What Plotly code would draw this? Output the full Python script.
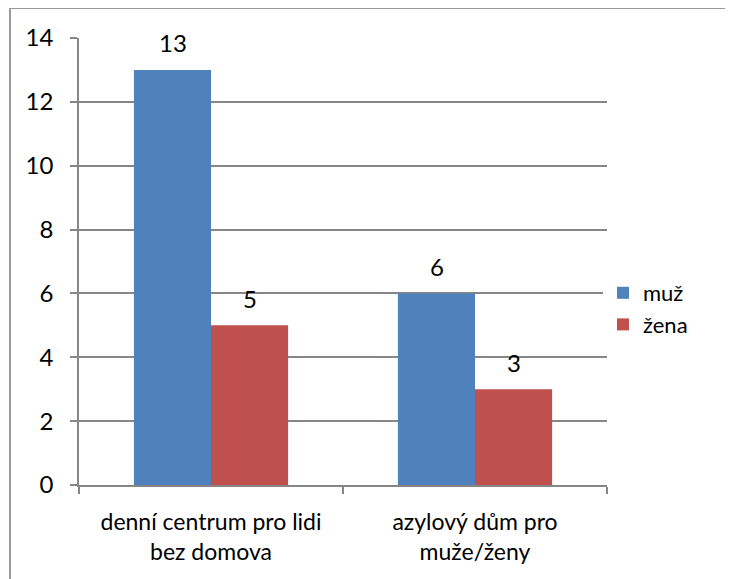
import plotly.graph_objects as go

categories = ["denní centrum pro lidi<br>bez domova", "azylový dům pro<br>muže/ženy"]
muz = [13, 6]
zena = [5, 3]
series_names = ["muž", "žena"]
y_ticks = [0, 2, 4, 6, 8, 10, 12, 14]

FONT = "Lato"
FS = 24
fig = go.Figure()
fig.add_trace(go.Bar(x=categories, y=muz, name=series_names[0], marker_color="#4F81BD", marker_line_width=0))
fig.add_trace(go.Bar(x=categories, y=zena, name=series_names[1], marker_color="#C0504D", marker_line_width=0))

for vals, shift in ((muz, -38.5), (zena, 38.5)):
    for c, v in zip(categories, vals):
        fig.add_annotation(x=c, y=v, text=str(v), showarrow=False, xshift=shift, yshift=27,
                           font=dict(family=FONT, size=FS, color="#000"))

# page offset of 8px (body margin) removed
OFF = 8
L, R, T, B = 79 - OFF, 607 - OFF, 38 - OFF, 485 - OFF
W, H = 733 - OFF, 579 - OFF
pw, ph = R - L, B - T
def px(x): return (x - OFF - L) / pw
def py(y): return (B - (y - OFF)) / ph

fig.add_shape(type="line", xref="paper", yref="paper", x0=px(10), x1=px(733), y0=py(8), y1=py(8),
              line=dict(color="#9a9a9a", width=2))
fig.add_shape(type="line", xref="paper", yref="paper", x0=px(10), x1=px(10), y0=py(8), y1=py(579),
              line=dict(color="#9a9a9a", width=2))

fig.update_layout(
    width=W, height=H,
    margin=dict(l=L, r=W - R, t=T, b=H - B),
    paper_bgcolor="white", plot_bgcolor="white",
    barmode="group", bargap=0.416, bargroupgap=0,
    font=dict(family=FONT, size=FS, color="#000"),
    showlegend=True,
    legend=dict(x=px(603), y=py(309), xanchor="left", yanchor="middle",
                font=dict(family=FONT, size=22), itemwidth=30, tracegroupgap=0),
    xaxis=dict(showline=True, linecolor="#868686", linewidth=1.5, ticks="outside", tickson="boundaries",
               ticklen=7, tickcolor="#868686", tickwidth=1.5, showgrid=False,
               tickfont=dict(family=FONT, size=23), ticklabelstandoff=16),
    yaxis=dict(range=[0, 14], tickvals=y_ticks, showline=True, linecolor="#868686", linewidth=1.5,
               ticks="outside", ticklen=7, tickcolor="#868686", tickwidth=1.5,
               showgrid=True, gridcolor="#868686", gridwidth=1.5, zeroline=False,
               tickfont=dict(family=FONT, size=FS), ticklabelstandoff=12),
)
fig.write_html("out.html", config={"displayModeBar": False})
